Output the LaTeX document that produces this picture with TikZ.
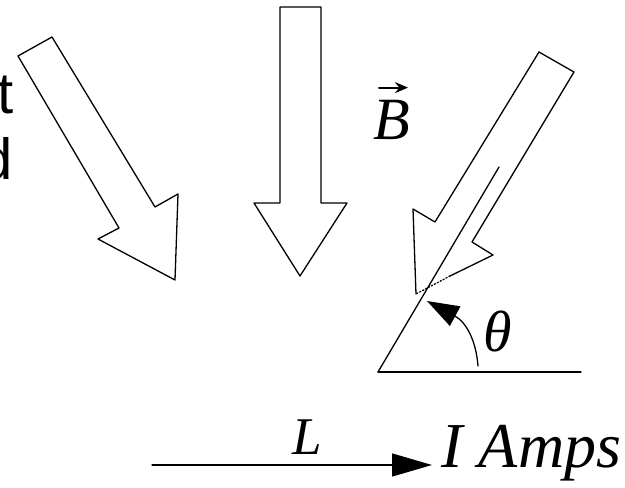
\RequirePackage{fix-cm}
\documentclass[tikz,border=0pt]{standalone}
\usepackage{fontspec}
\setmainfont{Liberation Serif}
\newfontfamily\sansfont{Liberation Sans}
\usetikzlibrary{arrows.meta}
\begin{document}
\begin{tikzpicture}[x=1pt,y=-1pt,line width=1.3pt,line join=round,line cap=round,
	lbl/.style={inner sep=0pt},
	cut/.style={lbl,anchor=base east,font=\sansfont\fontsize{58}{66}\selectfont}]
	\useasboundingbox (0,0) rectangle (625,488);
	\clip (0,0) rectangle (625,488);
	% words cut off at the left edge
	\node[cut] (wordt) at (14,113) {t};
	\node[cut] (wordd) at (13,179) {d};
	% field arrows
	\draw (52,37)--(155,207)--(178,194)--(175,280)--(98,239)--(119,228)--(18,56)--cycle;
	\draw (280,7)--(321,7)--(321,203)--(347,203)--(300,276)--(254,203)--(280,203)--cycle;
	\draw (539,52)--(574,72)--(472,242)--(493,255)--(450,276);
	\draw[dotted] (450,276)--(416,294);
	\draw (416,294)--(413,209)--(435,222)--(539,52);
	\node[lbl,font=\fontsize{60}{66}\selectfont] (B) at (392,120) {\textit{B}};
	\draw[-{Stealth[length=13pt,width=11pt]},line width=2pt] ([shift={(-13,-12)}]B.north) -- ([shift={(16,-12)}]B.north);
	% wire and angle
	\coordinate (O) at (378,372);
	\coordinate (wiretop) at (499,167);
	\coordinate (ground) at (581,372);
	\draw (O)--(wiretop);
	\draw (O)--(ground);
	\draw[-{Triangle[length=32pt,width=22pt]}] (478,366) .. controls (476,340) and (466,322) .. (427,301);
	\node[lbl,font=\fontsize{58}{66}\selectfont] (theta) at (498,332) {\textit{θ}};
	% current
	\node[lbl,anchor=base west,font=\fontsize{64}{70}\selectfont] (amps) at (441,467) {\textit{I Amps}};
	\coordinate (start) at (152,465);
	\draw[-{Triangle[length=40pt,width=23pt]},shorten >=9pt] (start) -- (amps.west |- start);
	\node[lbl,font=\fontsize{53}{60}\selectfont] (L) at (307,437) {\textit{L}};
\end{tikzpicture}
\end{document}
